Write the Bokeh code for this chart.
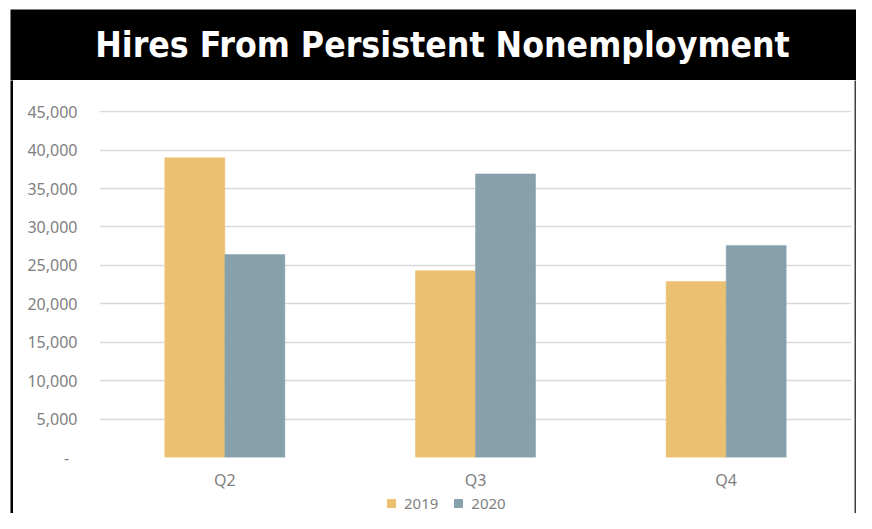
from bokeh.plotting import figure
from bokeh.models import (ColumnDataSource, FactorRange, Range1d, FixedTicker,
                          CustomJSTickFormatter, Legend, LegendItem, Label)
from bokeh.layouts import column, row
from bokeh.transform import dodge
from bokeh.embed import file_html
from bokeh.resources import INLINE

# ---- data ----
TITLE = "Hires From Persistent Nonemployment"
quarters = ["Q2", "Q3", "Q4"]
hires_2019 = [39000, 24300, 22900]
hires_2020 = [26400, 36900, 27600]
series_names = ["2019", "2020"]
series_colors = ["#EBC071", "#86A1AB"]
y_ticks = [0, 5000, 10000, 15000, 20000, 25000, 30000, 35000, 40000, 45000]

TXT = "#7f7f7f"
COMMON = dict(output_backend="svg", toolbar_location=None, outline_line_color=None)

# ---- title banner ----
banner = figure(width=856, height=80, x_range=Range1d(0, 846), y_range=Range1d(0, 71),
                x_axis_type=None, y_axis_type=None,
                min_border_left=10, min_border_top=9, min_border_right=0, min_border_bottom=0,
                background_fill_color="black", border_fill_color="white", **COMMON)
banner.add_layout(Label(x=432, y=36.5, text=TITLE, text_align="center",
                        text_baseline="middle", text_color="white",
                        text_font="DejaVu Sans Condensed, Roboto", text_font_style="bold",
                        text_font_size="35.3px"))

# ---- side strips ----
BODY_H = 433
LEG_H = 20
left_strip = figure(width=13, height=BODY_H, x_axis_type=None, y_axis_type=None,
                    min_border_left=10, min_border_top=0, min_border_right=0, min_border_bottom=0,
                    background_fill_color="black", border_fill_color="white", **COMMON)
right_strip = figure(width=3, height=BODY_H, x_axis_type=None, y_axis_type=None,
                     min_border_left=1, min_border_top=0, min_border_right=0, min_border_bottom=0,
                     background_fill_color="#404040", border_fill_color="white", **COMMON)

# ---- main chart ----
src = ColumnDataSource(dict(q=quarters, y2019=hires_2019, y2020=hires_2020))
p = figure(width=840, height=BODY_H - LEG_H, x_range=FactorRange(*quarters),
           y_range=Range1d(0, 45150),
           min_border_left=86, min_border_right=2, min_border_top=30, min_border_bottom=36,
           background_fill_color="white", border_fill_color="white", **COMMON)

bw = 0.2395
r1 = p.vbar(x=dodge("q", -bw / 2, range=p.x_range), top="y2019", width=bw, source=src,
            fill_color=series_colors[0], line_color=series_colors[0], line_width=0.5)
r2 = p.vbar(x=dodge("q", bw / 2, range=p.x_range), top="y2020", width=bw, source=src,
            fill_color=series_colors[1], line_color=series_colors[1], line_width=0.5)

p.xgrid.visible = False
p.ygrid.grid_line_color = "#d9d9d9"
p.ygrid.grid_line_width = 1.5
p.ygrid.level = "underlay"

p.yaxis.ticker = FixedTicker(ticks=y_ticks)
p.yaxis.formatter = CustomJSTickFormatter(code="""
    if (tick == 0) { return "-\u00a0\u00a0"; }
    return tick.toLocaleString('en-US');
""")
for ax in (p.xaxis, p.yaxis):
    ax.axis_line_color = None
    ax.major_tick_line_color = None
    ax.minor_tick_line_color = None
    ax.major_tick_out = 0
    ax.major_tick_in = 0
    ax.minor_tick_out = 0
    ax.minor_tick_in = 0
    ax.major_label_text_color = TXT
    ax.major_label_text_font = "Noto Sans"
    ax.major_label_text_font_size = "16px"
p.yaxis.major_label_standoff = 22
p.xaxis.major_label_standoff = 11

# ---- legend strip (same series as hidden renderers; legend swatches remain) ----
lf = figure(width=840, height=LEG_H, x_range=FactorRange(*quarters), y_range=Range1d(0, 45150),
            x_axis_type=None, y_axis_type=None,
            min_border_left=0, min_border_top=0, min_border_right=0, min_border_bottom=0,
            background_fill_color="white", border_fill_color="white", **COMMON)
lf.xgrid.visible = False
lf.ygrid.visible = False
l1 = lf.vbar(x="q", top="y2019", width=bw, source=src, visible=False,
             fill_color=series_colors[0], line_color=series_colors[0])
l2 = lf.vbar(x="q", top="y2020", width=bw, source=src, visible=False,
             fill_color=series_colors[1], line_color=series_colors[1])
legend = Legend(items=[LegendItem(label=series_names[0], renderers=[l1]),
                       LegendItem(label=series_names[1], renderers=[l2])],
                orientation="horizontal", location=(287, 0), click_policy="none",
                glyph_width=10, glyph_height=10, label_height=15, label_standoff=8, spacing=15,
                padding=0, margin=0, background_fill_alpha=0, border_line_alpha=0,
                label_text_color=TXT, label_text_font="Noto Sans", label_text_font_size="15px")
lf.add_layout(legend, "center")

layout = column(banner,
                row(left_strip, column(p, lf, spacing=0), right_strip, spacing=0),
                spacing=0)

open("out.html", "w").write(file_html(layout, INLINE))
